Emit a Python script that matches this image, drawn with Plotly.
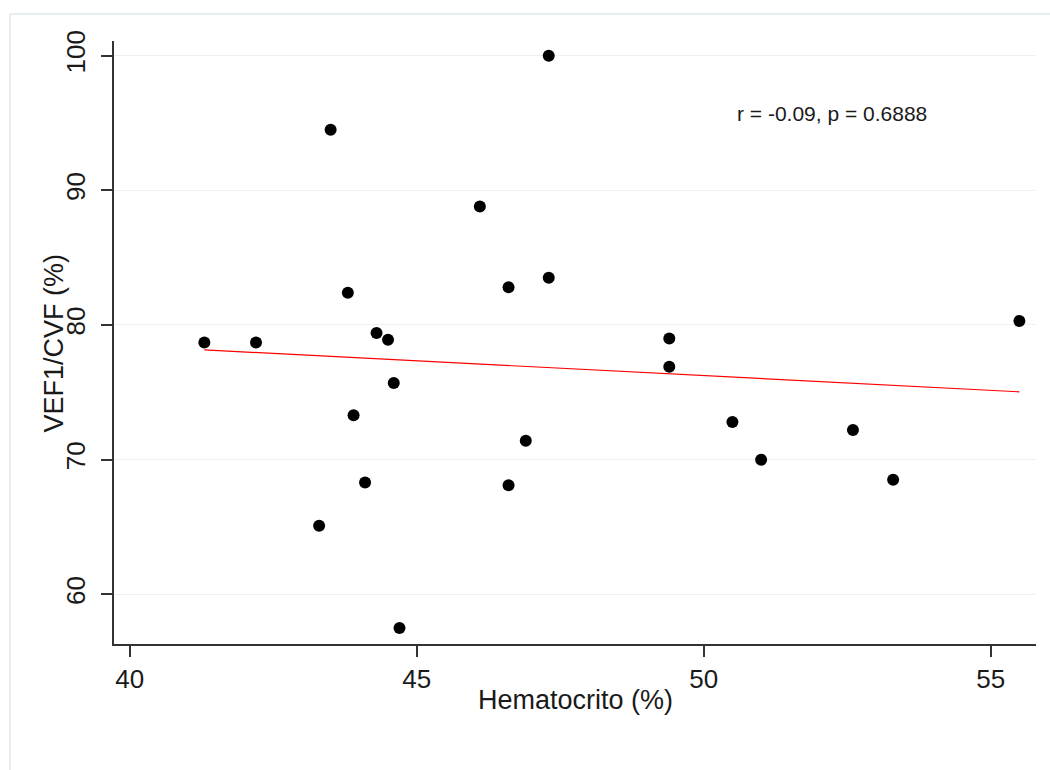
import numpy as np
import plotly.graph_objects as go

# Hematocrit (%) vs FEV1/FVC (%) for each subject
hematocrito = [41.3, 42.2, 43.5, 43.3, 43.8, 43.9, 44.3, 44.5, 44.6, 44.1, 44.7, 46.1,
               46.6, 47.3, 47.3, 46.9, 46.6, 49.4, 49.4, 50.5, 51.0, 52.6, 53.3, 55.5]
vef1_cvf = [78.7, 78.7, 94.5, 65.1, 82.4, 73.3, 79.4, 78.9, 75.7, 68.3, 57.5, 88.8,
            82.8, 83.5, 100.0, 71.4, 68.1, 79.0, 76.9, 72.8, 70.0, 72.2, 68.5, 80.3]

x_ticks = [40, 45, 50, 55]
y_ticks = [60, 70, 80, 90, 100]
x_title = "Hematocrito (%)"
y_title = "VEF1/CVF (%)"
stats_label = "r = -0.09, p = 0.6888"

# least-squares fit line over the observed hematocrit range
slope, intercept = np.polyfit(hematocrito, vef1_cvf, 1)
fit_x = np.array([min(hematocrito), max(hematocrito)])
fit_y = intercept + slope * fit_x

FONT = "Liberation Sans, Arial, sans-serif"
AXIS_COLOR = "#333333"
GRID_COLOR = "#eaf1f3"
TEXT_COLOR = "#1a1a1a"

# plot area in pixels (used to place titles and the outer frame)
L, R, T, B = 114, 1036, 41, 644
PW, PH = R - L, B - T


def px_x(p):
    return (p - L) / PW


def px_y(p):
    return (B - p) / PH


fig = go.Figure()
fig.add_trace(go.Scatter(
    x=hematocrito, y=vef1_cvf, mode="markers",
    marker=dict(color="black", size=12, line=dict(width=0)),
    showlegend=False, hoverinfo="x+y",
))
fig.add_trace(go.Scatter(
    x=fit_x, y=fit_y, mode="lines",
    line=dict(color="#ff0000", width=1.2),
    showlegend=False, hoverinfo="skip",
))

fig.add_annotation(
    x=50.55, y=95.7, xref="x", yref="y", text=stats_label,
    showarrow=False, xanchor="left", yanchor="middle",
    font=dict(family=FONT, size=21, color=TEXT_COLOR),
)

# axis titles
fig.add_annotation(
    x=0.5, y=px_y(700), xref="paper", yref="paper", text=x_title,
    showarrow=False, xanchor="center", yanchor="middle",
    font=dict(family=FONT, size=27, color=TEXT_COLOR),
)
fig.add_annotation(
    x=px_x(53), y=0.5, xref="paper", yref="paper", text=y_title,
    showarrow=False, xanchor="center", yanchor="middle", textangle=-90,
    font=dict(family=FONT, size=27, color=TEXT_COLOR),
)

# outer graph-region frame (left and top edges)
frame = dict(color="#e6eef1", width=2)
fig.add_shape(type="line", xref="paper", yref="paper",
              x0=px_x(10), x1=px_x(10), y0=px_y(14), y1=px_y(780), line=frame)
fig.add_shape(type="line", xref="paper", yref="paper",
              x0=px_x(10), x1=px_x(1060), y0=px_y(14), y1=px_y(14), line=frame)

fig.update_layout(
    width=1050, height=770,
    margin=dict(l=L, r=1050 - R, t=T, b=770 - B),
    paper_bgcolor="white", plot_bgcolor="white",
    font=dict(family=FONT, color=TEXT_COLOR),
    xaxis=dict(
        range=[39.726, 55.789], tickmode="array", tickvals=x_ticks,
        showgrid=False, zeroline=False,
        showline=True, linecolor=AXIS_COLOR, linewidth=1.5,
        ticks="outside", ticklen=11, tickwidth=1.5, tickcolor=AXIS_COLOR,
        tickfont=dict(size=26),
    ),
    yaxis=dict(
        range=[56.31, 101.09], tickmode="array", tickvals=y_ticks,
        showgrid=True, gridcolor=GRID_COLOR, gridwidth=1.2, zeroline=False,
        showline=True, linecolor=AXIS_COLOR, linewidth=1.5,
        ticks="outside", ticklen=11, tickwidth=1.5, tickcolor=AXIS_COLOR,
        tickangle=-90, tickfont=dict(size=26), ticklabelstandoff=6,
    ),
)

fig.write_html("out.html")
